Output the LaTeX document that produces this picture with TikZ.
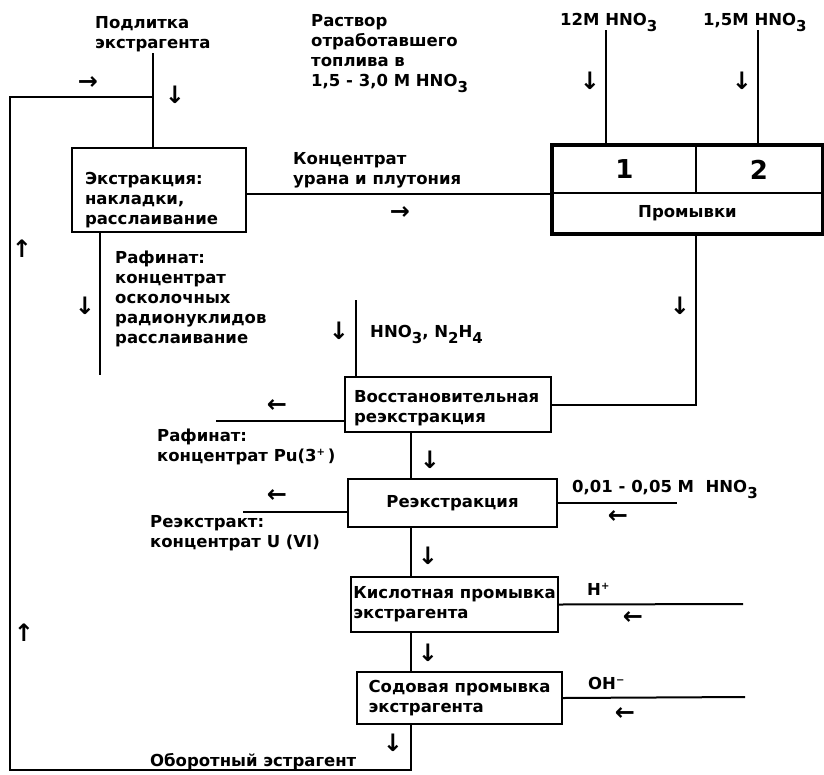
\documentclass[tikz,border=0pt]{standalone}
\usepackage{fontspec}
\setmainfont{DejaVu Sans}
\newfontfamily\arrowfont{DejaVu Sans}
\newcommand{\lowidx}[1]{\raisebox{-6pt}{\fontsize{15}{15}\selectfont #1}}
\newcommand{\highidx}[1]{\raisebox{6pt}{\fontsize{10}{10}\selectfont #1}}
% left-aligned block of lines, shifted down by #1 inside a box of width #2
\newcommand{\boxtext}[3]{\raisebox{#1}[\height][\depth]{\makebox[#2][l]{\begin{tabular}{@{}l@{}}#3\end{tabular}}}}
\begin{document}
\begin{tikzpicture}[x=1pt,y=-1pt,
  txt/.style={font=\bfseries\fontsize{16.5}{20}\selectfont, inner sep=0pt, anchor=north west, align=left},
  box/.style={draw, line width=2.4pt, font=\bfseries\fontsize{16.5}{20}\selectfont, inner sep=2pt, align=left},
  conn/.style={line width=2pt},
  arr/.style={font=\arrowfont\bfseries\fontsize{24}{24}\selectfont, inner sep=0pt}]
\useasboundingbox (0,0) rectangle (824,774);

% ---- process boxes ----
\node[box, minimum width=174, minimum height=84] (extr) at (159,190)
  {\boxtext{-10pt}{148pt}{Экстракция:\\накладки,\\расслаивание}};
\node[draw, line width=2pt, minimum width=143, minimum height=47, inner sep=0pt,
  font=\bfseries\fontsize{26}{26}\selectfont] (cell1) at (624.5,169.5) {1};
\node[draw, line width=2pt, minimum width=126, minimum height=47, inner sep=0pt,
  font=\bfseries\fontsize{26}{26}\selectfont] (cell2) at (759,169.5) {2};
\node[draw, line width=2pt, minimum width=269, minimum height=40, inner sep=0pt,
  font=\bfseries\fontsize{16.5}{16.5}\selectfont] (wash) at (687.5,213) {Промывки};
\draw[line width=3.6pt] (cell1.north west) rectangle (wash.south east);

\node[box, minimum width=206, minimum height=55] (vos) at (448,404.5)
  {\boxtext{-4pt}{188pt}{Восстановительная\\реэкстракция}};
\node[box, minimum width=209, minimum height=48] (rex) at (452.5,503) {Реэкстракция};
\node[box, minimum width=207, minimum height=55] (acid) at (454.5,604.5)
  {Кислотная промывка\\экстрагента};
\node[box, minimum width=205, minimum height=52] (soda) at (459.5,698)
  {Содовая промывка\\экстрагента};

% ---- stream labels ----
\node[txt] (feedlbl) at (95,16) {Подлитка\\экстрагента};
\node[txt] (soln) at (311,14) {Раствор\\отработавшего\\топлива в\\1,5 - 3,0 M HNO\lowidx{3}};
\node[txt] (acid12) at (560,13) {12M HNO\lowidx{3}};
\node[txt] (acid15) at (703,13) {1,5M HNO\lowidx{3}};
\node[txt] (conclbl) at (293,152) {Концентрат\\урана и плутония};
\node[txt] (raflbl) at (115,251) {Рафинат:\\концентрат\\осколочных\\радионуклидов\\расслаивание};
\node[txt] (hnlbl) at (370,325) {HNO\lowidx{3}, N\lowidx{2}H\lowidx{4}};
\node[txt] (pulbl) at (157,429) {Рафинат:\\концентрат Pu(3\highidx{+}\,)};
\node[txt] (ulbl) at (150,515) {Реэкстракт:\\концентрат U (VI)};
\node[txt] (dilute) at (572,480) {0,01 - 0,05 M \ HNO\lowidx{3}};
\node[txt] (hplus) at (587,583) {H\highidx{+}};
\node[txt] (ohminus) at (588,677) {OH\highidx{−}};
\node[txt] (recyc) at (150,753) {Оборотный эстрагент};

% ---- free ends and bends ----
\coordinate (feedtop) at (153,53);
\coordinate (feedjoin) at (153,97);
\coordinate (loopT) at (10,97);
\coordinate (loopB) at (10,770);
\coordinate (spine) at (411,0);
\coordinate (concY) at (0,194);
\coordinate (top12) at (606,30);
\coordinate (top15) at (758,30);
\coordinate (washX) at (696,0);
\coordinate (rafEnd) at (100,375);
\coordinate (hnTop) at (356,300);
\coordinate (puEnd) at (216,421);
\coordinate (uEnd) at (243,512);
\coordinate (dilEnd) at (677,503);
\coordinate (hEnd) at (743,604);
\coordinate (ohEnd) at (745,697);

% ---- connectors ----
\draw[conn] (feedtop) -- (feedtop |- extr.north);
\draw[conn] (feedjoin) -- (loopT) -- (loopB) -- (spine |- loopB) -- (soda.south -| spine);
\draw[conn] (extr.east |- concY) -- (cell1.west |- concY);
\draw[conn] (top12) -- (top12 |- cell1.north);
\draw[conn] (top15) -- (top15 |- cell2.north);
\draw[conn] (wash.south -| washX) |- (vos.east);
\draw[conn] (rafEnd |- extr.south) -- (rafEnd);
\draw[conn] (hnTop) -- (hnTop |- vos.north);
\draw[conn] (vos.west |- puEnd) -- (puEnd);
\draw[conn] (rex.west |- uEnd) -- (uEnd);
\draw[conn] (rex.east) -- (dilEnd);
\draw[conn] (acid.east) -- (hEnd);
\draw[conn] (soda.east) -- (ohEnd);
\draw[conn] (vos.south -| spine) -- (rex.north -| spine);
\draw[conn] (rex.south -| spine) -- (acid.north -| spine);
\draw[conn] (acid.south -| spine) -- (soda.north -| spine);

% ---- flow direction marks ----
\node[arr] (a1) at (88,83) {→};
\node[arr] (a2) at (175,95) {↓};
\node[arr] (a3) at (22,249) {↑};
\node[arr] (a4) at (85,306) {↓};
\node[arr] (a5) at (400,213) {→};
\node[arr] (a6) at (590,81) {↓};
\node[arr] (a7) at (742,81) {↓};
\node[arr] (a8) at (680,306) {↓};
\node[arr] (a9) at (339,331) {↓};
\node[arr] (a10) at (277,406) {←};
\node[arr] (a11) at (430,460) {↓};
\node[arr] (a12) at (277,496) {←};
\node[arr] (a13) at (618,517) {←};
\node[arr] (a14) at (428,556) {↓};
\node[arr] (a15) at (633,618) {←};
\node[arr] (a16) at (428,653) {↓};
\node[arr] (a17) at (625,714) {←};
\node[arr] (a18) at (393,743) {↓};
\node[arr] (a19) at (24,633) {↑};
\end{tikzpicture}
\end{document}
